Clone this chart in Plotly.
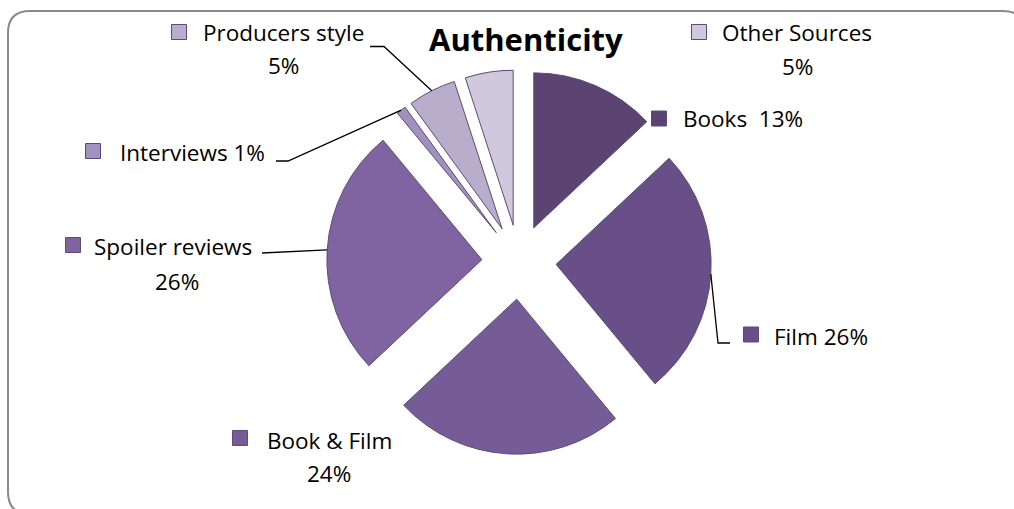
import plotly.graph_objects as go
import math

# ---- data ----
categories = ["Books", "Film", "Book & Film", "Spoiler reviews", "Interviews", "Producers style", "Other Sources"]
values = [13, 26, 24, 26, 1, 5, 5]
colors = ["#5C4472", "#684F87", "#765C96", "#8064A2", "#A191BE", "#B8ADCB", "#D0C8DC"]
title_text = "Authenticity"

W, H = 1014, 509
PULL = 0.24
CX, CY = 519, 262          # pie center in pixels
R = 155                    # pie radius in pixels
BOX = R * (1 + PULL)


def px(x):
    return x / W


def py(y):
    return 1 - y / H


fig = go.Figure()
fig.add_trace(go.Pie(
    labels=categories, values=values, sort=False, direction="clockwise", rotation=0,
    pull=[PULL] * len(values), textinfo="none", hoverinfo="label+percent",
    marker=dict(colors=colors, line=dict(color="#5F497A", width=1)),
    domain=dict(x=[px(CX - BOX), px(CX + BOX)], y=[py(CY + BOX), py(CY - BOX)]),
    showlegend=False,
))

total = sum(values)
cum = 0
anchors = {}
for c, v in zip(categories, values):
    mid = (cum + v / 2) / total * 2 * math.pi
    cum += v
    d = R * (1 + PULL)
    anchors[c] = (CX + d * math.sin(mid), CY - d * math.cos(mid))

FONT_FAMILY = "Open Sans, Lato, sans-serif"
font = dict(family=FONT_FAMILY, size=22.5, color="#000000")
shapes = []
annotations = []

# rounded border
x0, y0, x1, y1, rr = 8, 11, 1025, 514, 22
path = (f"M {px(x0)},{py(y0 + rr)} Q {px(x0)},{py(y0)} {px(x0 + rr)},{py(y0)} "
        f"L {px(x1 - rr)},{py(y0)} Q {px(x1)},{py(y0)} {px(x1)},{py(y0 + rr)} "
        f"L {px(x1)},{py(y1 - rr)} Q {px(x1)},{py(y1)} {px(x1 - rr)},{py(y1)} "
        f"L {px(x0 + rr)},{py(y1)} Q {px(x0)},{py(y1)} {px(x0)},{py(y1 - rr)} Z")
shapes.append(dict(type="path", xref="paper", yref="paper", path=path,
                   line=dict(color="#8A8A8A", width=2), layer="below"))

# label layout: square center (x, y), text left x, text y, second line (text, center x, y), leader points
label_layout = {
    "Producers style": ((179, 32), 201, 33, ("5%", 283, 66), [(370, 46.5), (384, 46.5)]),
    "Other Sources": ((699, 32), 720, 33, ("5%", 797, 67), None),
    "Books": ((659, 118.5), 681, 118.5, None, None),
    "Interviews": ((93, 151), 118, 152, None, [(276, 161), (288, 161)]),
    "Spoiler reviews": ((73, 245), 92, 246, ("26%", 177, 281), [(262, 253)]),
    "Film": ((751, 334.5), 772, 336, None, [(730, 343), (718, 343)]),
    "Book & Film": ((240, 438), 265, 440, ("24%", 329, 473), None),
}
first_line = {
    "Producers style": "Producers style",
    "Other Sources": "Other Sources",
    "Books": "Books  13%",
    "Interviews": "Interviews 1%",
    "Spoiler reviews": "Spoiler reviews",
    "Film": "Film 26%",
    "Book & Film": "Book & Film",
}

for c, col in zip(categories, colors):
    (sx, sy), tx, ty, second, leader = label_layout[c]
    s = 7.5
    shapes.append(dict(type="rect", xref="paper", yref="paper",
                       x0=px(sx - s), x1=px(sx + s), y0=py(sy + s), y1=py(sy - s),
                       fillcolor=col, line=dict(color="#5F497A", width=1)))
    annotations.append(dict(x=px(tx), y=py(ty), xref="paper", yref="paper", text=first_line[c],
                            showarrow=False, xanchor="left", yanchor="middle", font=font))
    if second:
        annotations.append(dict(x=px(second[1]), y=py(second[2]), xref="paper", yref="paper",
                                text=second[0], showarrow=False, xanchor="center",
                                yanchor="middle", font=font))
    if leader:
        pts = leader + [anchors[c]]
        p = "M " + " L ".join(f"{px(a)},{py(b)}" for a, b in pts)
        shapes.append(dict(type="path", xref="paper", yref="paper", path=p,
                           line=dict(color="#000000", width=1.3)))

annotations.append(dict(x=px(526), y=py(39), xref="paper", yref="paper",
                        text=f"<b>{title_text}</b>", showarrow=False,
                        xanchor="center", yanchor="middle",
                        font=dict(family=FONT_FAMILY, size=31, color="#000000")))

fig.update_layout(
    width=W, height=H, margin=dict(l=0, r=0, t=0, b=0),
    paper_bgcolor="#FFFFFF", plot_bgcolor="#FFFFFF",
    shapes=shapes, annotations=annotations,
)

fig.write_html("out.html")
